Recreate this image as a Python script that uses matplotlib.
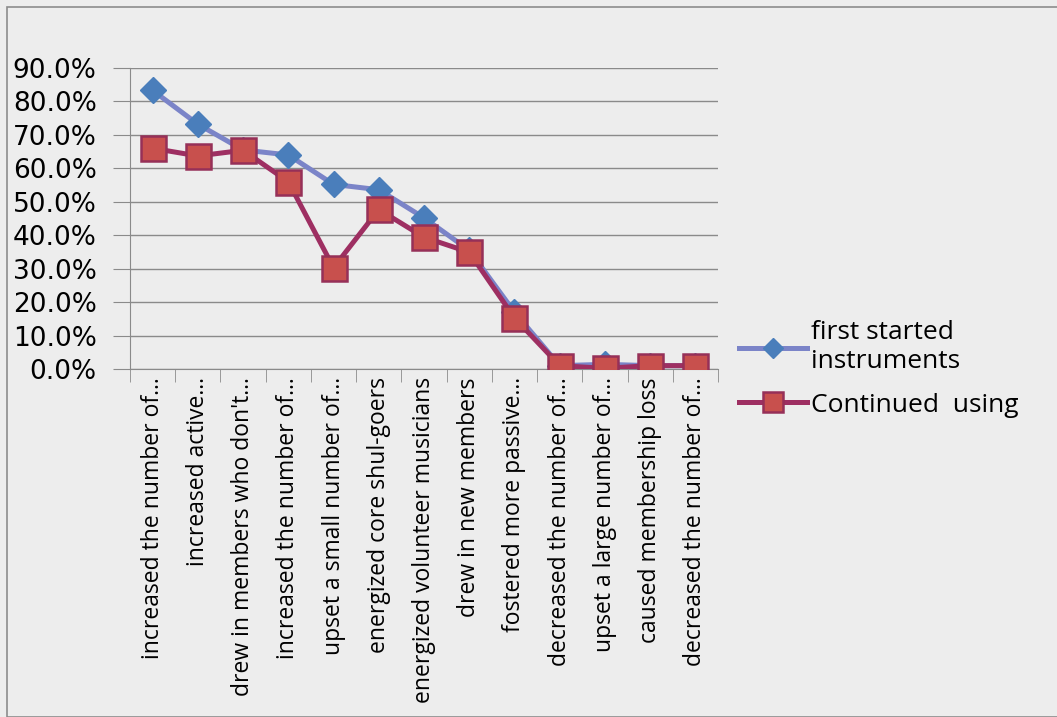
import matplotlib.pyplot as plt
from matplotlib.patches import Rectangle
from matplotlib.ticker import FuncFormatter, FixedLocator
import numpy as np

categories = [
    "increased the number of…",
    "increased active…",
    "drew in members who don't…",
    "increased the number of…",
    "upset a small number of…",
    "energized core shul-goers",
    "energized volunteer musicians",
    "drew in new members",
    "fostered more passive…",
    "decreased the number of…",
    "upset a large number of…",
    "caused membership loss",
    "decreased the number of…",
]
first_started = [83.3, 73.2, 65.5, 64.0, 55.2, 53.6, 45.2, 35.5, 17.0, 1.0, 1.4, 1.0, 1.0]
continued_using = [66.0, 63.7, 65.4, 56.0, 30.3, 47.7, 39.4, 34.9, 15.3, 1.0, 0.2, 1.0, 1.0]

bg = "#ededed"
plt.rcParams['font.family'] = ['Open Sans', 'DejaVu Sans']

fig = plt.figure(figsize=(10.57, 7.17), dpi=100, facecolor=bg)
fig.patches.append(Rectangle((7/1057, 0), 1.2, 1 - 7/717, transform=fig.transFigure,
                             fill=False, edgecolor="#8c8c8c", linewidth=1.2))

ax = fig.add_axes([130/1057, 1 - 369/717, (718 - 130)/1057, (369 - 68)/717])
ax.set_facecolor(bg)

x = np.arange(len(categories))
ax.plot(x, first_started, color="#7b84c8", linewidth=3.6, marker="D", markersize=13,
        markerfacecolor="#4a7ebb", markeredgecolor="#4a7ebb", label="first started\ninstruments",
        zorder=3)
ax.plot(x, continued_using, color="#9e2f62", linewidth=3.6, marker="s", markersize=18,
        markerfacecolor="#c8504d", markeredgecolor="#963058", markeredgewidth=1.8,
        label="Continued  using", zorder=4)

ax.set_xlim(-0.5, len(categories) - 0.5)
ax.set_ylim(0, 90)
ax.set_yticks(np.arange(0, 91, 10))
ax.yaxis.set_major_formatter(FuncFormatter(lambda v, p: f"{v:.1f}%"))
ax.grid(axis="y", color="#8a8a8a", linewidth=1)
ax.set_axisbelow(True)

ax.set_xticks(x)
ax.set_xticklabels(categories, rotation=90, fontsize=16.5, va="top", ha="center")
ax.xaxis.set_minor_locator(FixedLocator(np.arange(-0.5, len(categories), 1)))
ax.tick_params(axis="x", which="major", length=0, pad=6)
ax.tick_params(axis="x", which="minor", length=9, color="#8a8a8a")
ax.tick_params(axis="y", length=12, color="#8a8a8a", pad=12)
for lbl in ax.get_yticklabels():
    lbl.set_fontfamily("DejaVu Sans")
    lbl.set_fontsize(19)

for side in ["top", "right"]:
    ax.spines[side].set_visible(False)
ax.spines["left"].set_color("#8a8a8a")
ax.spines["bottom"].set_color("#8a8a8a")

leg = ax.legend(loc="center left", bbox_to_anchor=(1.035, 0.0), frameon=False,
                borderaxespad=0, borderpad=0,
                fontsize=19, handlelength=2.6, handletextpad=0.15, labelspacing=0.7)
for h in leg.legend_handles:
    h.set_markersize(h.get_markersize() * 0.8)

fig.savefig("out.png", dpi=100, facecolor=bg)
